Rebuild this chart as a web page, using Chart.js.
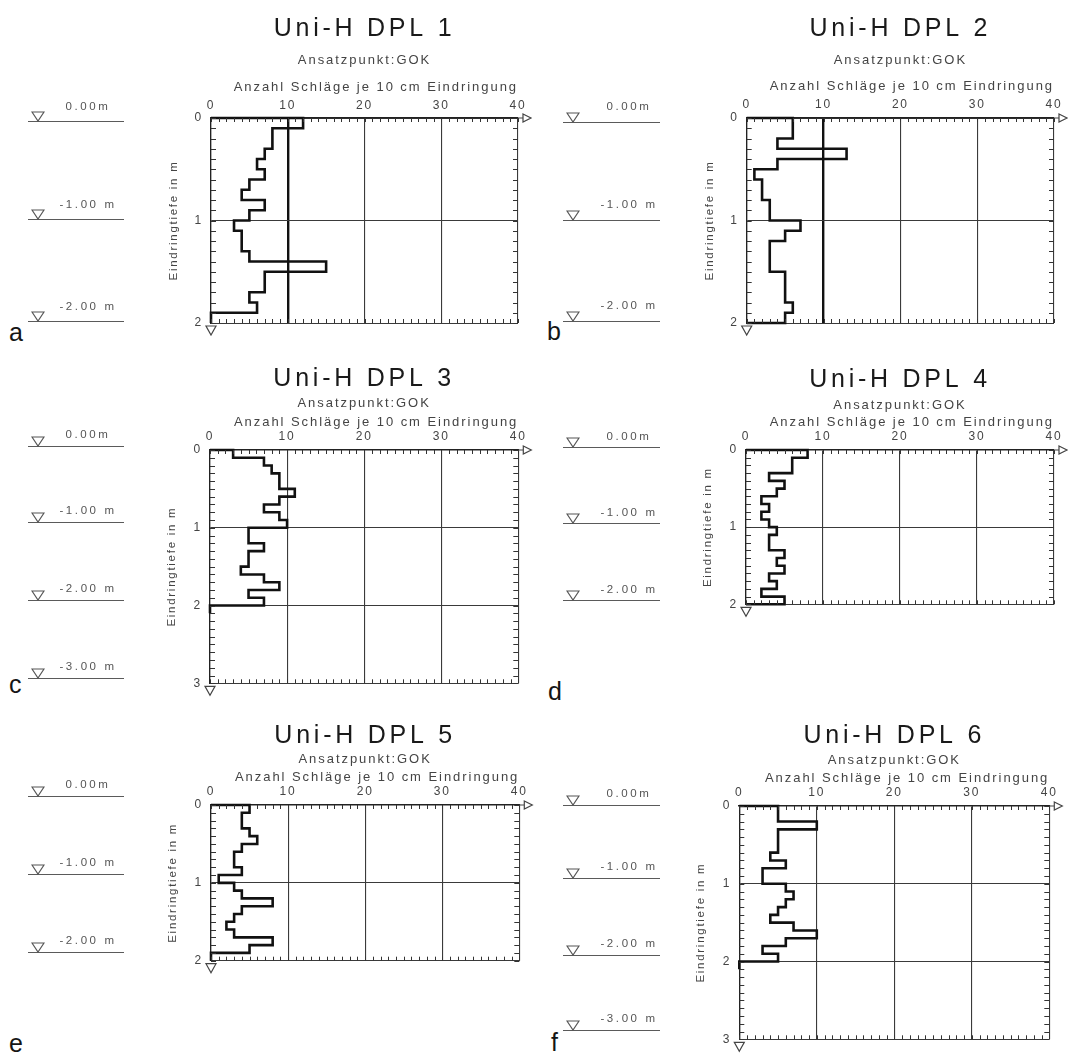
<!DOCTYPE html>
<html>
<head>
<meta charset="utf-8">
<script src="https://cdn.jsdelivr.net/npm/chart.js@4.4.1/dist/chart.umd.min.js"></script>
<style>
html,body{margin:0;padding:0;background:#fff;}
body{width:1069px;height:1058px;position:relative;overflow:hidden;font-family:'Liberation Sans',Arial,sans-serif;}
canvas{position:absolute;}
.mkline{position:absolute;height:0;border-top:1.3px solid #5a5a5a;}
.mktext{position:absolute;font-size:11.5px;color:#555;letter-spacing:2.6px;white-space:nowrap;transform:translate(-50%,-50%) translateZ(0);}
.mktri{position:absolute;}
.letter{position:absolute;font-size:25px;line-height:1;color:#151515;}
</style>
</head>
<body>
<script>
// ---------- DATA ----------
const panelTitles = ['Uni-H DPL 1','Uni-H DPL 2','Uni-H DPL 3','Uni-H DPL 4','Uni-H DPL 5','Uni-H DPL 6'];
const subtitleText = 'Ansatzpunkt:GOK';
const xAxisTitle = 'Anzahl Schläge je 10 cm Eindringung';
const yAxisTitle = 'Eindringtiefe in m';
// blows per 10 cm, one value per 0.1 m interval starting at 0.0 m
const dpl1 = [12, 8, 8, 7, 6, 7, 5, 4, 7, 5, 3, 4, 4, 5, 15, 7, 7, 5, 6, 0];
const dpl2 = [6, 6, 4, 13, 4, 1, 2, 2, 3, 3, 7, 5, 3, 3, 3, 5, 5, 5, 6, 5];
const dpl3 = [3, 7, 8, 9, 9, 11, 9, 7, 9, 10, 5, 5, 7, 5, 5, 4, 7, 9, 5, 7, 0];
const dpl4 = [8, 6, 6, 3, 5, 4, 2, 3, 2, 3, 4, 3, 3, 5, 4, 5, 3, 4, 2, 5];
const dpl5 = [5, 4, 4, 5, 6, 4, 3, 3, 4, 1, 3, 4, 8, 4, 3, 2, 3, 8, 5, 0];
const dpl6 = [5, 5, 10, 5, 5, 5, 4, 6, 3, 3, 6, 7, 6, 5, 4, 7, 10, 6, 3, 5, 0];
// interval top depths in m
const depthTop = [0.0, 0.1, 0.2, 0.3, 0.4, 0.5, 0.6, 0.7, 0.8, 0.9, 1.0, 1.1, 1.2, 1.3, 1.4, 1.5, 1.6, 1.7, 1.8, 1.9, 2.0, 2.1];
const maxDepths = [2, 2, 3, 2, 2, 3];
const xMin = 0, xMax = 40, xStep = 10, yStep = 1;
const depthLabels = ['0.00m', '-1.00 m', '-2.00 m', '-3.00 m'];
const panelLetters = ['a', 'b', 'c', 'd', 'e', 'f'];

// ---------- LAYOUT (pixels) ----------
const panelLayout = [
  {L:211,   T:118, R:518,    B:323,    titleY:29.5,  subY:60,  axY:87,  tickY:106, yTitleX:174,   thick10:true},
  {L:746.7, T:118, R:1054,   B:323,    titleY:29.5,  subY:60,  axY:86,  tickY:105, yTitleX:710,   thick10:true},
  {L:210,   T:450, R:518.3,  B:683.3,  titleY:379,   subY:403, axY:422, tickY:437, yTitleX:172,   thick10:false},
  {L:746,   T:450, R:1054,   B:604.3,  titleY:380.5, subY:405, axY:422, tickY:437, yTitleX:708,   thick10:false},
  {L:211,   T:805, R:519.3,  B:960.7,  titleY:736,   subY:759, axY:777, tickY:792, yTitleX:172.5, thick10:false},
  {L:739.3, T:806, R:1049.3, B:1039.3, titleY:736.5, subY:760, axY:778, tickY:793, yTitleX:701,   thick10:false}
];
const markerCols = [{x0:28, x1:124, tri:31, label:88}, {x0:563, x1:660, tri:566, label:629}];
const markerSets = [
  {col:0, ys:[121, 219, 321], gap:15},
  {col:1, ys:[122, 220, 321], gap:16},
  {col:0, ys:[446, 522, 600, 678], gap:12},
  {col:1, ys:[447, 523, 600], gap:11},
  {col:0, ys:[796, 874, 952], gap:12},
  {col:1, ys:[805, 878, 955, 1030], gap:12}
];
const letterPos = [[9,341],[547,340],[9,693],[548,700],[9,1052],[551,1051]];

Chart.defaults.font.family = "'Liberation Sans', Arial, sans-serif";

const spacing = {
  id: 'spacing',
  beforeLayout(c) { c.ctx.letterSpacing = '0.15em'; },
  beforeDraw(c) { c.ctx.letterSpacing = '0.15em'; }
};

const frame = {
  id: 'frame',
  afterDatasetsDraw(chart) {
    const {ctx, chartArea: a, scales} = chart;
    const x = scales.x, y = scales.y;
    ctx.save();
    ctx.letterSpacing = '0px';
    ctx.strokeStyle = '#333';
    ctx.lineWidth = 1;
    ctx.beginPath();
    for (let v = x.min; v <= x.max; v += 1) {
      const px = Math.round(x.getPixelForValue(v)) + 0.5;
      ctx.moveTo(px, a.top); ctx.lineTo(px, a.top + 4);
      ctx.moveTo(px, a.bottom); ctx.lineTo(px, a.bottom - 4);
    }
    const n = Math.round(y.max * 10);
    for (let k = 0; k <= n; k++) {
      const py = Math.round(y.getPixelForValue(k / 10)) + 0.5;
      ctx.moveTo(a.left, py); ctx.lineTo(a.left + 5, py);
      ctx.moveTo(a.right, py); ctx.lineTo(a.right - 5, py);
    }
    ctx.stroke();
    // end markers
    ctx.strokeStyle = '#444';
    ctx.lineWidth = 1.2;
    ctx.beginPath();
    ctx.moveTo(a.right, a.top); ctx.lineTo(a.right + 5, a.top);
    ctx.moveTo(a.right + 5, a.top - 4); ctx.lineTo(a.right + 13, a.top);
    ctx.lineTo(a.right + 5, a.top + 4); ctx.closePath();
    ctx.moveTo(a.left - 5, a.bottom + 3); ctx.lineTo(a.left + 5, a.bottom + 3);
    ctx.lineTo(a.left, a.bottom + 12); ctx.closePath();
    ctx.stroke();
    ctx.restore();
  }
};

function profile(vals) {
  const pts = [{x: 0, y: depthTop[0]}];
  vals.forEach((v, i) => pts.push({x: v, y: depthTop[i]}));
  pts.push({x: 0, y: depthTop[vals.length]});
  return pts;
}

function makeChart(idx, vals) {
  const p = panelLayout[idx];
  const maxDepth = maxDepths[idx];
  const cv = document.createElement('canvas');
  const cl = Math.round(p.L - 65), ct = Math.round(p.titleY - 28);
  const W = Math.round(p.R + 15 - cl), H = Math.round(p.B + 16 - ct);
  cv.width = W; cv.height = H;
  cv.style.left = cl + 'px'; cv.style.top = ct + 'px';
  cv.style.width = W + 'px'; cv.style.height = H + 'px';
  document.body.appendChild(cv);
  const Wy = 50;
  const TLH = 25, SLH = 15.6, ALH = 15.6, KLH = 14.4, YLH = 13.8;
  const padL = p.L - Wy - cl, padR = W - (p.R - cl), padB = H - (p.B - ct);
  const titlePadTop = p.titleY - ct - TLH / 2;
  const subPadTop = Math.max(0, p.subY - (p.titleY + TLH / 2) - SLH / 2);
  const scaleTop = p.titleY + TLH / 2 + subPadTop + SLH;
  const xH = p.T - scaleTop;
  const axPadTop = p.axY - scaleTop - ALH / 2;
  const tickPad = p.T - p.tickY - KLH / 2;
  const yTitlePad = p.yTitleX - (p.L - Wy) - YLH / 2;
  new Chart(cv, {
    type: 'line',
    data: {datasets: [{
      data: profile(vals), stepped: 'after', borderColor: '#111', borderWidth: 2.6,
      pointRadius: 0, fill: false, clip: 12, tension: 0
    }]},
    options: {
      responsive: false, animation: false, devicePixelRatio: 1,
      layout: {padding: {left: padL, right: padR, top: 0, bottom: padB}},
      plugins: {
        legend: {display: false}, tooltip: {enabled: false},
        title: {display: true, text: panelTitles[idx], fullSize: false,
          font: {size: 25, lineHeight: 1, weight: 'normal'}, color: '#1a1a1a',
          padding: {top: titlePadTop, bottom: 0}},
        subtitle: {display: true, text: subtitleText, fullSize: false,
          font: {size: 13, lineHeight: 1.2}, color: '#444',
          padding: {top: subPadTop, bottom: 0}}
      },
      scales: {
        x: {type: 'linear', position: 'top', min: xMin, max: xMax,
          ticks: {stepSize: xStep, padding: tickPad, font: {size: 12}, color: '#444'},
          grid: {drawTicks: false,
            color: c => (p.thick10 && c.tick && c.tick.value === 10) ? '#111' : '#3a3a3a',
            lineWidth: c => (p.thick10 && c.tick && c.tick.value === 10) ? 2.4 : 1.1},
          border: {display: true, color: '#222', width: 1.6},
          title: {display: true, text: xAxisTitle, align: 'end', font: {size: 13}, color: '#444',
            padding: {top: axPadTop, bottom: 0}},
          afterFit(s) { s.height = xH; }
        },
        y: {type: 'linear', reverse: true, min: 0, max: maxDepth,
          ticks: {stepSize: yStep, padding: 8, font: {size: 12}, color: '#444'},
          grid: {drawTicks: false, color: '#3a3a3a', lineWidth: 1},
          border: {display: true, color: '#222', width: 1.3},
          title: {display: true, text: yAxisTitle, font: {size: 11.5}, color: '#444',
            padding: {top: yTitlePad, bottom: 0}},
          afterFit(s) { s.width = Wy; }
        }
      }
    },
    plugins: [spacing, frame]
  });
}

[dpl1, dpl2, dpl3, dpl4, dpl5, dpl6].forEach((vals, i) => makeChart(i, vals));

// depth level markers beside each panel
markerSets.forEach(set => {
  const col = markerCols[set.col];
  set.ys.forEach((y, k) => {
    const ln = document.createElement('div');
    ln.className = 'mkline';
    ln.style.left = col.x0 + 'px'; ln.style.top = y + 'px'; ln.style.width = (col.x1 - col.x0) + 'px';
    document.body.appendChild(ln);
    const tx = document.createElement('div');
    tx.className = 'mktext';
    tx.style.left = col.label + 'px'; tx.style.top = (y - set.gap) + 'px';
    tx.textContent = depthLabels[k];
    document.body.appendChild(tx);
    const svgNS = 'http://www.w3.org/2000/svg';
    const svg = document.createElementNS(svgNS, 'svg');
    svg.setAttribute('class', 'mktri');
    svg.setAttribute('width', '14'); svg.setAttribute('height', '11');
    svg.style.left = col.tri + 'px'; svg.style.top = (y - 10) + 'px';
    const poly = document.createElementNS(svgNS, 'polygon');
    poly.setAttribute('points', '1,1 13,1 7,10');
    poly.setAttribute('fill', 'none'); poly.setAttribute('stroke', '#555'); poly.setAttribute('stroke-width', '1.2');
    svg.appendChild(poly);
    document.body.appendChild(svg);
  });
});

// panel letters
panelLetters.forEach((t, i) => {
  const d = document.createElement('div');
  d.className = 'letter';
  d.textContent = t;
  d.style.left = letterPos[i][0] + 'px';
  d.style.top = (letterPos[i][1] - 21) + 'px';
  document.body.appendChild(d);
});
</script>
</body>
</html>
